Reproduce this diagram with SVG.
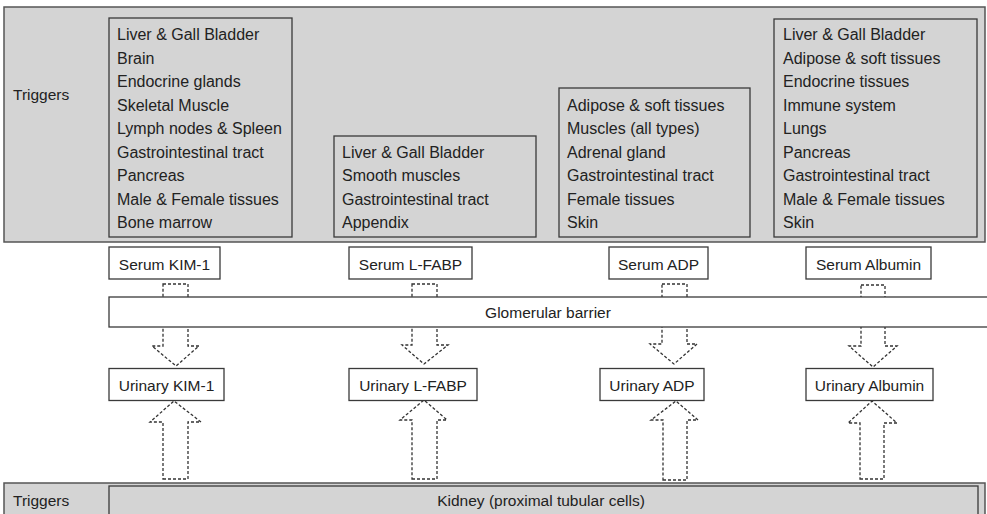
<svg xmlns="http://www.w3.org/2000/svg" width="987" height="514" viewBox="0 0 987 514">
<style>
text{font-family:"Liberation Sans",Arial,sans-serif;font-size:15.5px;fill:#222}
.l{font-size:16px}
.panel{fill:#d4d4d4;stroke:#555;stroke-width:1.5}
.gbox{fill:#d4d4d4;stroke:#3a3a3a;stroke-width:1.3}
.wbox{fill:#fff;stroke:#3a3a3a;stroke-width:1.3}
.arr{fill:none;stroke:#333;stroke-width:1.3;stroke-dasharray:3 2}
.c{text-anchor:middle}
</style>
<rect width="987" height="514" fill="#fff"/>
<g id="top-panel">
<rect class="panel" x="4" y="7" width="981" height="235"/>
<text x="13" y="100">Triggers</text>
</g>
<g id="triggers-kim1" class="l">
<rect class="gbox" x="109" y="18" width="183" height="219"/>
<text class="l" x="117" y="40">Liver &amp; Gall Bladder</text>
<text class="l" x="117" y="63.5">Brain</text>
<text class="l" x="117" y="87">Endocrine glands</text>
<text class="l" x="117" y="110.5">Skeletal Muscle</text>
<text class="l" x="117" y="134">Lymph nodes &amp; Spleen</text>
<text class="l" x="117" y="157.5">Gastrointestinal tract</text>
<text class="l" x="117" y="181">Pancreas</text>
<text class="l" x="117" y="204.5">Male &amp; Female tissues</text>
<text class="l" x="117" y="228">Bone marrow</text>
</g>
<g id="triggers-lfabp">
<rect class="gbox" x="334" y="136" width="202" height="101"/>
<text class="l" x="342" y="157.5">Liver &amp; Gall Bladder</text>
<text class="l" x="342" y="181">Smooth muscles</text>
<text class="l" x="342" y="204.5">Gastrointestinal tract</text>
<text class="l" x="342" y="228">Appendix</text>
</g>
<g id="triggers-adp">
<rect class="gbox" x="559" y="88" width="191" height="149"/>
<text class="l" x="567" y="110.5">Adipose &amp; soft tissues</text>
<text class="l" x="567" y="134">Muscles (all types)</text>
<text class="l" x="567" y="157.5">Adrenal gland</text>
<text class="l" x="567" y="181">Gastrointestinal tract</text>
<text class="l" x="567" y="204.5">Female tissues</text>
<text class="l" x="567" y="228">Skin</text>
</g>
<g id="triggers-albumin">
<rect class="gbox" x="774" y="19" width="203" height="218"/>
<text class="l" x="783" y="40">Liver &amp; Gall Bladder</text>
<text class="l" x="783" y="63.5">Adipose &amp; soft tissues</text>
<text class="l" x="783" y="87">Endocrine tissues</text>
<text class="l" x="783" y="110.5">Immune system</text>
<text class="l" x="783" y="134">Lungs</text>
<text class="l" x="783" y="157.5">Pancreas</text>
<text class="l" x="783" y="181">Gastrointestinal tract</text>
<text class="l" x="783" y="204.5">Male &amp; Female tissues</text>
<text class="l" x="783" y="228">Skin</text>
</g>
<g id="connectors">
<polygon class="arr" points="163,284 188,284 188,346 199,346 176,366 152,346 163,346"/>
<polygon class="arr" points="412,284 437,284 437,345 448,345 424,364 402,345 412,345"/>
<polygon class="arr" points="662,284 687,284 687,344 697,344 674,364 650,344 662,344"/>
<polygon class="arr" points="861,285 885,285 885,346 897,346 873,367 849,346 861,346"/>
<polygon class="arr" points="163,479 188,479 188,422 201,422 174,401 150,422 163,422"/>
<polygon class="arr" points="412,479 437,479 437,420 447,420 424,400 400,420 412,420"/>
<polygon class="arr" points="663,480 687,480 687,420 698,420 676,401 651,420 663,420"/>
<polygon class="arr" points="860,479 884,479 884,423 897,423 872,401 848,423 860,423"/>
</g>
<g id="glomerular-barrier">
<rect class="wbox" x="109" y="297" width="890" height="30"/>
<text class="c" x="548" y="318">Glomerular barrier</text>
</g>
<g id="serum-kim1">
<rect class="wbox" x="109" y="247" width="111" height="32"/>
<text class="c" x="164.5" y="270">Serum KIM-1</text>
</g>
<g id="serum-lfabp">
<rect class="wbox" x="349" y="247" width="123" height="32"/>
<text class="c" x="410.5" y="270">Serum L-FABP</text>
</g>
<g id="serum-adp">
<rect class="wbox" x="609" y="247" width="99" height="32"/>
<text class="c" x="658.5" y="270">Serum ADP</text>
</g>
<g id="serum-albumin">
<rect class="wbox" x="806" y="247" width="125" height="32"/>
<text class="c" x="868.5" y="270">Serum Albumin</text>
</g>
<g id="urinary-kim1">
<rect class="wbox" x="109" y="368.5" width="115" height="32"/>
<text class="c" x="166.5" y="391">Urinary KIM-1</text>
</g>
<g id="urinary-lfabp">
<rect class="wbox" x="349" y="368.5" width="128" height="32"/>
<text class="c" x="413" y="391">Urinary L-FABP</text>
</g>
<g id="urinary-adp">
<rect class="wbox" x="600" y="368.5" width="104" height="32"/>
<text class="c" x="652" y="391">Urinary ADP</text>
</g>
<g id="urinary-albumin">
<rect class="wbox" x="806" y="368.5" width="127" height="32"/>
<text class="c" x="869.5" y="391">Urinary Albumin</text>
</g>
<g id="bottom-panel">
<rect class="panel" x="4" y="483" width="981" height="40"/>
<text x="13" y="506">Triggers</text>
</g>
<g id="kidney">
<rect class="gbox" x="109" y="486" width="869" height="40"/>
<text class="c" x="541" y="506">Kidney (proximal tubular cells)</text>
</g>
</svg>
